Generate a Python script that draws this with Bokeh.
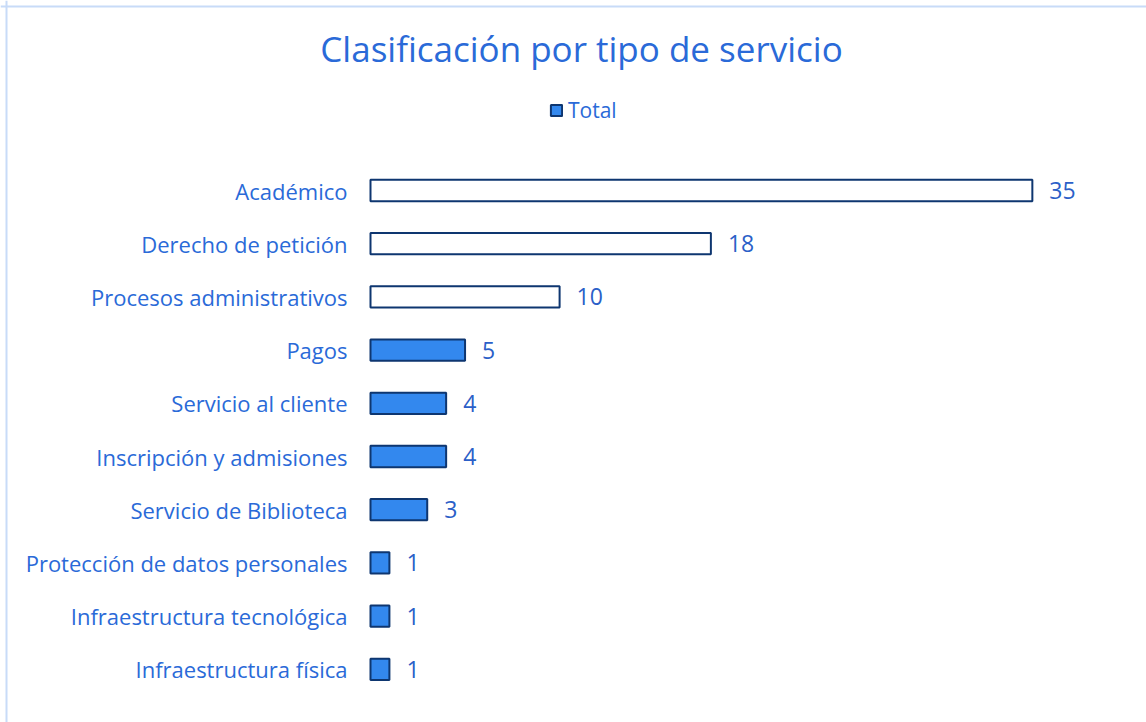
from bokeh.plotting import figure
from bokeh.models import Range1d, Label, Legend, LegendItem, Span, ColumnDataSource
from bokeh.core.properties import value
from bokeh.embed import file_html
from bokeh.resources import INLINE

categories = ["Académico", "Derecho de petición", "Procesos administrativos", "Pagos",
              "Servicio al cliente", "Inscripción y admisiones", "Servicio de Biblioteca",
              "Protección de datos personales", "Infraestructura tecnológica", "Infraestructura física"]
totals = [35, 18, 10, 5, 4, 4, 3, 1, 1, 1]
highlighted = [True, True, True, False, False, False, False, False, False, False]

W, H = 1146, 722
x0_px, k = 370.0, 18.91          # pixel of value 0, px per unit
y0_px, step = 190.0, 53.2        # pixel of first row, px per row

TEXT = "#2a6ad8"
BAR = "#3388ee"
EDGE = "#0e3670"
FONT = "Open Sans"

src = ColumnDataSource(dict(
    y=list(range(len(categories))),
    cat=categories,
    val=totals,
    lab=[str(v) for v in totals],
    fill=["white" if h else BAR for h in highlighted],
))

p = figure(width=W, height=H, output_backend="svg", toolbar_location=None,
           x_axis_type=None, y_axis_type=None,
           x_range=Range1d(-x0_px / k, (W - x0_px) / k),
           y_range=Range1d((H - y0_px) / step, -y0_px / step),
           min_border=0, min_border_left=0, min_border_right=0,
           min_border_top=0, min_border_bottom=0)
p.grid.visible = False
p.outline_line_color = None
p.background_fill_color = "white"
p.border_fill_color = "white"

bars = p.hbar(y="y", left=0, right="val", height=0.4, source=src,
              fill_color="fill", line_color=EDGE, line_width=2)

p.text(x=0, y="y", text="cat", source=src, x_offset=-23,
       text_align="right", text_baseline="middle",
       text_font=value(FONT), text_font_size="22px", text_color=TEXT)

p.text(x="val", y="y", text="lab", source=src, x_offset=17,
       text_align="left", text_baseline="middle",
       text_font=value(FONT), text_font_size="23px", text_color="#2b5fc8")

p.add_layout(Label(x=581, y=H - 48, x_units="screen", y_units="screen",
                   text="Clasificación por tipo de servicio",
                   text_align="center", text_baseline="middle",
                   text_font=FONT, text_font_size="35px", text_color=TEXT))

legend = Legend(items=[LegendItem(label="Total", renderers=[bars], index=3)],
                location=(549, H - 124), orientation="horizontal",
                glyph_width=14, glyph_height=14, label_standoff=5,
                label_text_font=FONT, label_text_font_size="21px",
                label_text_color=TEXT, padding=0, margin=0, spacing=0,
                border_line_color=None, background_fill_alpha=0)
p.add_layout(legend)

p.add_layout(Span(location=6, dimension="height", location_units="screen",
                  line_color="#c8dbf8", line_width=2))
p.add_layout(Span(location=H - 6, dimension="width", location_units="screen",
                  line_color="#c8dbf8", line_width=2))

open("out.html", "w").write(file_html(p, INLINE))
